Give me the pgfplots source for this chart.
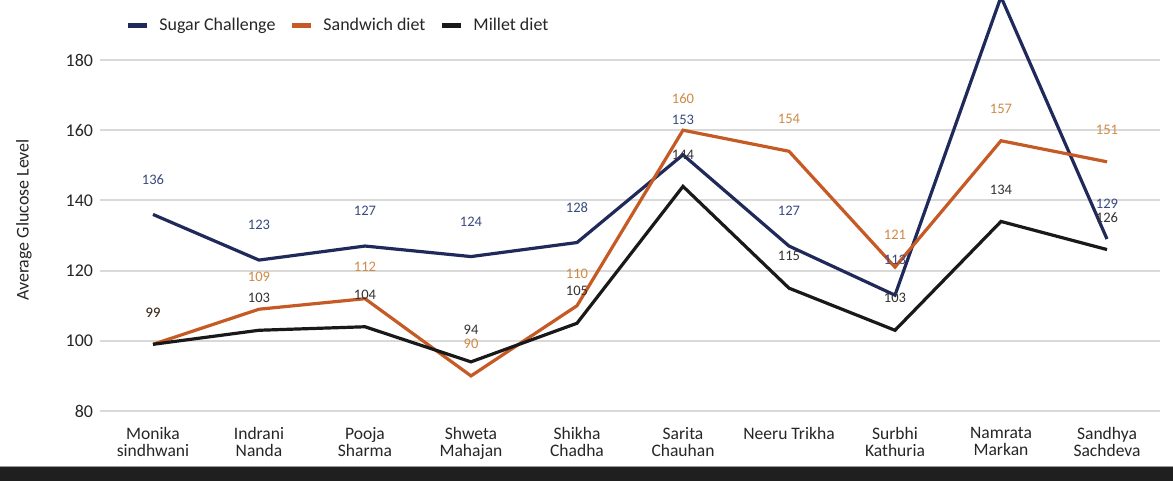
\documentclass[border=0pt]{standalone}
\usepackage{pgfplots}
\pgfplotsset{compat=1.18}
\usepackage{fontspec}
\setmainfont{Carlito}
\definecolor{navy}{HTML}{1F2A5A}
\definecolor{sand}{HTML}{C65A24}
\definecolor{navylab}{HTML}{3A4A80}
\definecolor{sandlab}{HTML}{D08A45}
\definecolor{blklab}{HTML}{333333}
\definecolor{gridc}{HTML}{D9D9D9}
\begin{document}
\begin{tikzpicture}
\path[use as bounding box] (-50bp,-35bp) rectangle (536.5bp,205.5bp);
\fill[white] (-50bp,-35bp) rectangle (536.5bp,205.5bp);
\begin{axis}[
  at={(0,0)}, anchor=south west,
  scale only axis, width=530bp, height=205.5bp,
  xmin=-0.5, xmax=9.5, ymin=80, ymax=197.1,
  axis line style={draw=none},
  tick style={draw=none},
  ytick={80,100,120,140,160,180},
  ymajorgrids, grid style={gridc, line width=1bp},
  xtick={0,...,9},
  xticklabels={{Monika\\sindhwani},{Indrani\\Nanda},{Pooja\\Sharma},{Shweta\\Mahajan},{Shikha\\Chadha},{Sarita\\Chauhan},{Neeru Trikha},{Surbhi\\Kathuria},{Namrata\\Markan},{Sandhya\\Sachdeva}},
  xticklabel style={align=center, anchor=north, yshift=-4.5bp, font=\fontsize{8.8}{8.6}\selectfont, text=black!85},
  yticklabel style={anchor=east, xshift=0bp, font=\fontsize{9}{10}\selectfont, text=black!85},
  /pgf/number format/assume math mode=true,
  legend columns=3,
  legend cell align=left,
  legend style={at={(rel axis cs:0.018,0.937)}, anchor=west, draw=none, fill=none,
    font=\fontsize{9}{10}\selectfont, text=black!85,
    /tikz/every even column/.append style={column sep=5bp},
    /tikz/every odd column/.append style={column sep=3bp}},
  legend image code/.code={\draw[#1, line width=2.5bp] (0bp,0bp) -- (9.5bp,0bp);},
  every node near coord/.append style={font=\fontsize{7.3}{8}\selectfont, anchor=center},
]
\addplot[navy, line width=1.6bp, mark=none, nodes near coords,
  every node near coord/.append style={text=navylab, yshift=17.5bp}]
  coordinates {(0,136) (1,123) (2,127) (3,124) (4,128) (5,153) (6,127) (7,113) (8,198) (9,129)};
\addlegendentry{Sugar Challenge}
\addplot[sand, line width=1.6bp, mark=none, nodes near coords,
  every node near coord/.append style={text=sandlab, yshift=16bp}]
  coordinates {(0,99) (1,109) (2,112) (3,90) (4,110) (5,160) (6,154) (7,121) (8,157) (9,151)};
\addlegendentry{Sandwich diet}
\addplot[black!90, line width=1.6bp, mark=none, nodes near coords,
  every node near coord/.append style={text=blklab, yshift=16bp}]
  coordinates {(0,99) (1,103) (2,104) (3,94) (4,105) (5,144) (6,115) (7,103) (8,134) (9,126)};
\addlegendentry{Millet diet}
\end{axis}
\node[rotate=90, font=\fontsize{9}{10}\selectfont, text=black!85] at (-38bp,95.5bp) {Average Glucose Level};
\fill[black!88] (-50bp,-35bp) rectangle (536.5bp,-28bp);
\draw[black!40, line width=0.6bp] (-50bp,-27.6bp) -- (536.5bp,-27.6bp);
\end{tikzpicture}
\end{document}
